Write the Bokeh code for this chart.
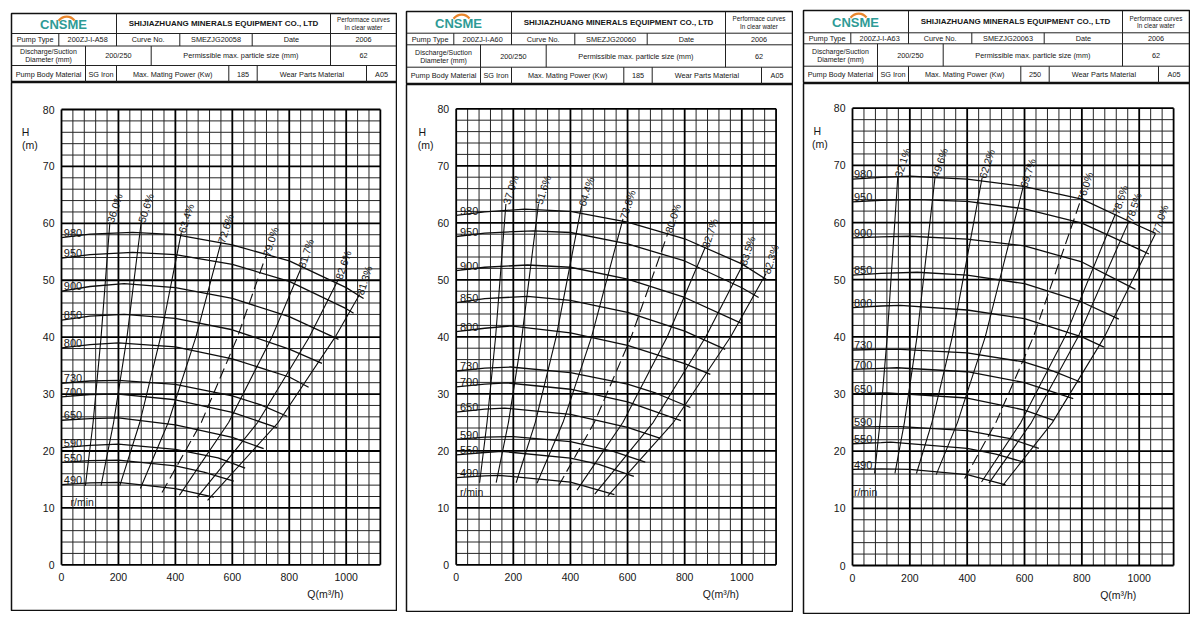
from bokeh.plotting import figure
from bokeh.models import Range1d, LinearAxis, FixedTicker, Spacer
from bokeh.layouts import row, column
from bokeh.core.properties import value
from bokeh.embed import file_html
from bokeh.resources import INLINE

FONT = "Liberation Sans"

# ---------------- common data ----------------
SPEEDS = [980, 950, 900, 850, 800, 730, 700, 650, 590, 550, 490]
X_TICKS = [0, 200, 400, 600, 800, 1000]
Y_TICKS = [0, 10, 20, 30, 40, 50, 60, 70, 80]
Q_MAX = 1120
H_MAX = 80
Q_MINOR_STEP = 40
H_MINOR_STEP = 2

COMPANY = "SHIJIAZHUANG MINERALS EQUIPMENT CO., LTD"

# ---------------- panel 1 : 200ZJ-I-A58 ----------------
A58_INFO = ["200ZJ-I-A58", "SMEZJG20058", "185"]
A58_Q = [
    [0, 100, 250, 400, 600, 800, 1000, 1061],
    [0, 100, 250, 400, 600, 800, 1000, 1026],
    [0, 100, 220, 400, 600, 800, 973],
    [0, 100, 220, 400, 600, 800, 915],
    [0, 100, 200, 400, 600, 800, 868],
    [0, 100, 200, 400, 600, 700, 792],
    [0, 100, 200, 400, 600, 757],
    [0, 100, 200, 400, 600, 710],
    [0, 100, 200, 400, 550, 645],
    [0, 100, 200, 400, 500, 605],
    [0, 100, 200, 400, 535],
]
A58_H = [
    [57.5, 58.1, 58.4, 58.0, 56.2, 53.4, 48.7, 46.8],
    [53.9, 54.5, 54.9, 54.5, 52.8, 49.8, 45.0, 44.2],
    [48.1, 48.9, 49.4, 48.7, 46.8, 43.6, 39.6],
    [43.0, 43.7, 44.0, 43.3, 41.3, 37.9, 35.4],
    [38.1, 38.7, 39.0, 38.3, 36.2, 33.0, 31.2],
    [31.9, 32.3, 32.4, 31.7, 29.7, 28.1, 26.1],
    [29.5, 29.9, 30.0, 29.0, 26.8, 24.1],
    [25.4, 25.7, 25.8, 24.6, 22.4, 20.4],
    [20.6, 21.0, 21.2, 20.3, 18.8, 17.0],
    [18.0, 18.3, 18.4, 17.4, 16.3, 14.7],
    [14.1, 14.4, 14.5, 13.4, 11.9],
]
A58_EFF_LABELS = ["36.0%", "50.6%", "63.4%", "72.6%", "79.0%", "81.7%", "82.6%", "81.3%"]
A58_EFF_DASHED = [False, False, False, False, True, False, False, False]
A58_EFF_Q = [
    [84, 111, 139, 170],
    [139, 183, 230, 280],
    [205, 275, 348, 421],
    [277, 375, 472, 560],
    [353, 491, 618, 718],
    [414, 587, 739, 842],
    [476, 689, 870, 973],
    [513, 761, 961, 1047],
]
A58_EFF_H = [
    [13.9, 25, 40, 60.2],
    [13.9, 25, 40, 60.2],
    [13.9, 25, 40, 58.4],
    [13.4, 25, 40, 56.6],
    [12.7, 25, 40, 54.3],
    [12.2, 25, 40, 52.2],
    [11.8, 25, 40, 50.2],
    [11.3, 25, 40, 47.5],
]

# ---------------- panel 2 : 200ZJ-I-A60 ----------------
A60_INFO = ["200ZJ-I-A60", "SMEZJG20060", "185"]
A60_Q = [
    [0, 100, 240, 400, 600, 800, 1000, 1088],
    [0, 100, 270, 400, 600, 800, 1000, 1059],
    [0, 100, 250, 400, 600, 800, 1001],
    [0, 100, 250, 400, 600, 800, 942],
    [0, 100, 190, 400, 600, 800, 890],
    [0, 100, 190, 400, 600, 700, 820],
    [0, 100, 180, 400, 600, 787],
    [0, 100, 170, 400, 600, 715],
    [0, 100, 200, 400, 550, 662],
    [0, 100, 160, 400, 500, 622],
    [0, 100, 150, 400, 554],
]
A60_H = [
    [61.3, 61.9, 62.4, 62.0, 60.1, 57.2, 52.8, 50.0],
    [57.6, 58.2, 58.6, 58.3, 56.3, 53.3, 48.6, 46.9],
    [51.6, 52.2, 52.6, 52.2, 50.1, 46.9, 42.3],
    [46.0, 46.7, 47.1, 46.4, 44.3, 41.0, 37.8],
    [40.9, 41.5, 41.9, 40.7, 38.5, 35.3, 33.4],
    [34.0, 34.5, 34.7, 33.7, 31.7, 30.1, 27.6],
    [31.2, 31.7, 31.9, 30.8, 28.6, 25.3],
    [26.8, 27.3, 27.5, 26.4, 24.1, 22.2],
    [22.0, 22.4, 22.5, 21.6, 19.9, 18.0],
    [19.3, 19.7, 19.9, 18.7, 17.6, 15.5],
    [15.3, 15.6, 15.7, 14.5, 12.3],
]
A60_EFF_LABELS = ["37.0%", "51.6%", "64.4%", "73.8%", "80.0%", "82.7%", "83.5%", "82.3%"]
A60_EFF_DASHED = [False, False, False, False, True, False, False, False]
A60_EFF_Q = [
    [82, 108, 138, 174],
    [140, 183, 230, 288],
    [210, 277, 350, 439],
    [283, 374, 474, 584],
    [359, 484, 613, 742],
    [423, 584, 739, 872],
    [485, 690, 874, 1003],
    [531, 761, 961, 1085],
]
A60_EFF_H = [
    [14.4, 25, 40, 63.3],
    [14.4, 25, 40, 63.3],
    [14.4, 25, 40, 63.0],
    [14.3, 25, 40, 60.7],
    [13.9, 25, 40, 58.3],
    [13.1, 25, 40, 55.7],
    [12.4, 25, 40, 52.6],
    [12.1, 25, 40, 51.1],
]

# ---------------- panel 3 : 200ZJ-I-A63 ----------------
A63_INFO = ["200ZJ-I-A63", "SMEZJG20063", "250"]
A63_Q = [
    [0, 100, 200, 400, 600, 800, 1000, 1057],
    [0, 100, 226, 400, 600, 800, 1000, 1034],
    [0, 100, 200, 400, 600, 800, 987],
    [0, 100, 226, 400, 600, 800, 929],
    [0, 100, 167, 400, 600, 800, 877],
    [0, 100, 167, 400, 600, 700, 795],
    [0, 100, 156, 400, 600, 770],
    [0, 100, 121, 400, 600, 702],
    [0, 100, 167, 400, 550, 650],
    [0, 100, 133, 400, 500, 603],
    [0, 100, 200, 400, 534],
]
A63_H = [
    [67.6, 67.9, 68.1, 67.6, 66.3, 64.1, 59.4, 58.1],
    [63.6, 63.9, 64.0, 63.7, 62.4, 59.9, 55.3, 54.5],
    [57.3, 57.5, 57.6, 57.1, 55.9, 53.1, 48.3],
    [50.8, 51.1, 51.3, 50.8, 49.3, 46.1, 43.1],
    [45.1, 45.4, 45.5, 44.7, 43.2, 40.0, 38.2],
    [37.7, 37.8, 37.8, 37.2, 35.6, 34.0, 32.1],
    [34.3, 34.5, 34.6, 33.9, 32.0, 29.2],
    [30.0, 30.2, 30.2, 29.3, 27.2, 25.4],
    [24.2, 24.3, 24.3, 23.6, 22.2, 20.5],
    [21.3, 21.5, 21.6, 20.5, 19.5, 18.0],
    [16.8, 16.9, 16.8, 15.9, 14.1],
]
A63_EFF_LABELS = ["32.1%", "49.6%", "62.2%", "69.7%", "76.0%", "78.6%", "78.5%", "77.0%"]
A63_EFF_DASHED = [False, False, False, False, True, False, False, False]
A63_EFF_Q = [
    [77, 96, 121, 158],
    [148, 181, 225, 288],
    [223, 277, 348, 452],
    [292, 366, 463, 595],
    [391, 500, 631, 795],
    [450, 587, 741, 917],
    [476, 624, 787, 964],
    [524, 697, 879, 1057],
]
A63_EFF_H = [
    [16.1, 25, 40, 68.0],
    [16.1, 25, 40, 68.0],
    [16.1, 25, 40, 67.8],
    [15.9, 25, 40, 66.2],
    [15.2, 25, 40, 63.8],
    [14.6, 25, 40, 61.5],
    [14.4, 25, 40, 60.2],
    [14.0, 25, 40, 58.1],
]

# ---------------- layout (pixel geometry of each sheet) ----------------
PANELS = [
    dict(info=A58_INFO, sq=A58_Q, sh=A58_H, el=A58_EFF_LABELS, eq=A58_EFF_Q, eh=A58_EFF_H, ed=A58_EFF_DASHED,
         left=11, right=396, top=13, rows=[0, 20, 32.5, 52, 69], bottom=610,
         q0=61.0, qs=0.2847, h0=564.3, hs=5.691, lab_q=8, rmin=(32, 11.0),
         hlab=(-126, 76.0), mlab=(-111, 73.7)),
    dict(info=A60_INFO, sq=A60_Q, sh=A60_H, el=A60_EFF_LABELS, eq=A60_EFF_Q, eh=A60_EFF_H, ed=A60_EFF_DASHED,
         left=406, right=792, top=11, rows=[0, 21.7, 33.3, 55.7, 73], bottom=611,
         q0=455.7, qs=0.2856, h0=564.3, hs=5.70, lab_q=13, rmin=(13, 12.7),
         hlab=(-119, 76.0), mlab=(-107, 73.7)),
    dict(info=A63_INFO, sq=A63_Q, sh=A63_H, el=A63_EFF_LABELS, eq=A63_EFF_Q, eh=A63_EFF_H, ed=A63_EFF_DASHED,
         left=803, right=1189, top=10, rows=[0, 22.3, 33.3, 55.7, 73], bottom=613,
         q0=852.0, qs=0.2867, h0=565.0, hs=5.716, lab_q=5, rmin=(5, 12.8),
         hlab=(-123, 76.1), mlab=(-114, 73.8)),
]

PAGE_OFFSET = 0  # observed origin of the layout inside the screenshot
TEXT_C = "#161616"


def txt(p, x, y, s, size, align="center", baseline="middle", style="normal", color=TEXT_C, angle=0):
    p.text(x=[x], y=[y], text=[s], text_align=align, text_baseline=baseline,
           text_font=value(FONT), text_font_size=f"{size}px", text_font_style=style,
           text_color=color, angle=angle, angle_units="deg")


def make_header(cfg):
    W = cfg["right"] - cfg["left"]
    r = cfg["rows"]
    HH = int(round(r[-1]))
    p = figure(width=W + 2, height=HH + 1, x_range=Range1d(0, W), y_range=Range1d(HH, 0),
               min_border_left=1, min_border_right=1, min_border_top=1, min_border_bottom=0,
               toolbar_location=None, output_backend="svg", x_axis_type=None, y_axis_type=None)
    p.outline_line_color = "#111111"
    p.outline_line_width = 1.5
    p.background_fill_color = "white"
    p.border_fill_color = "white"
    lc = "#222222"
    p.segment(x0=[0, 0, 0, 0], y0=r[1:], x1=[W, W, W, W], y1=r[1:], line_color=lc, line_width=1.0)
    cols = [[105, 319], [47.3, 105, 168.3, 240.7, 319], [74, 139.7, 319], [74, 105, 217.3, 245.7, 355]]
    for i, cl in enumerate(cols):
        p.segment(x0=cl, y0=r[i], x1=cl, y1=r[i + 1], line_color=lc, line_width=1.0)

    def mid(i):
        return (r[i] + r[i + 1]) / 2.0

    txt(p, 52, mid(0) + 0.8, "CNSME", 13, style="bold", color="#2e9b96")
    p.bezier(x0=[47], y0=[7.2], x1=[63], y1=[7.0], cx0=[52], cy0=[1.5], cx1=[59], cy1=[2.0],
             line_color="#e9862c", line_width=2.2)
    txt(p, 212, mid(0), COMPANY, 8, style="bold")
    txt(p, (319 + W) / 2, mid(0) - 3.6, "Performace curves", 6.3)
    txt(p, (319 + W) / 2, mid(0) + 3.8, "In clear water", 6.3)
    info = cfg["info"]
    row1 = [(0, 47.3, "Pump Type"), (47.3, 105, info[0]), (105, 168.3, "Curve No."),
            (168.3, 240.7, info[1]), (240.7, 319, "Date"), (319, W, "2006")]
    for a, b, s in row1:
        txt(p, (a + b) / 2, mid(1), s, 7.3)
    txt(p, 37, mid(2) - 3.8, "Discharge/Suction", 7.0)
    txt(p, 37, mid(2) + 4.0, "Diameter (mm)", 7.0)
    for a, b, s in [(74, 139.7, "200/250"), (139.7, 319, "Permissible max. particle size (mm)"), (319, W, "62")]:
        txt(p, (a + b) / 2, mid(2), s, 7.3)
    row3 = [(0, 74, "Pump Body Material"), (74, 105, "SG Iron"), (105, 217.3, "Max. Mating Power (Kw)"),
            (217.3, 245.7, info[2]), (245.7, 355, "Wear Parts Material"), (355, W, "A05")]
    for a, b, s in row3:
        txt(p, (a + b) / 2, mid(3), s, 7.3)
    return p


def make_chart(cfg):
    W = cfg["right"] - cfg["left"]
    top = cfg["top"] + int(round(cfg["rows"][-1]))
    CH = cfg["bottom"] - top
    qL = (cfg["left"] - cfg["q0"]) / cfg["qs"]
    qR = (cfg["right"] - cfg["q0"]) / cfg["qs"]
    hT = (cfg["h0"] - top) / cfg["hs"]
    hB = (cfg["h0"] - cfg["bottom"]) / cfg["hs"]
    p = figure(width=W + 2, height=CH + 1, x_range=Range1d(qL, qR), y_range=Range1d(hB, hT),
               min_border_left=1, min_border_right=1, min_border_top=0, min_border_bottom=1,
               toolbar_location=None, output_backend="svg", x_axis_type=None, y_axis_type=None)
    p.outline_line_color = "#111111"
    p.outline_line_width = 1.5
    p.background_fill_color = "white"
    p.border_fill_color = "white"

    minor_q = [q for q in range(0, Q_MAX + 1, Q_MINOR_STEP) if q % 200 != 0 and q != Q_MAX]
    minor_h = [h for h in range(0, H_MAX + 1, H_MINOR_STEP) if h % 10 != 0]
    major_q = X_TICKS + [Q_MAX]
    p.segment(x0=minor_q, y0=0, x1=minor_q, y1=H_MAX, line_color="#262626", line_width=1.0)
    p.segment(x0=0, y0=minor_h, x1=Q_MAX, y1=minor_h, line_color="#262626", line_width=1.0)
    p.segment(x0=major_q, y0=0, x1=major_q, y1=H_MAX, line_color="black", line_width=1.8)
    p.segment(x0=0, y0=Y_TICKS, x1=Q_MAX, y1=Y_TICKS, line_color="black", line_width=1.8)

    ax_style = dict(axis_line_color=None, major_tick_line_color=None, minor_tick_line_color=None,
                    major_tick_in=0, major_tick_out=0, minor_tick_in=0, minor_tick_out=0,
                    major_label_text_font=FONT, major_label_text_font_size="10.5px",
                    major_label_text_color=TEXT_C)
    yax = LinearAxis(fixed_location=0, ticker=FixedTicker(ticks=Y_TICKS), bounds=(0, H_MAX),
                     major_label_standoff=7, **ax_style)
    xax = LinearAxis(fixed_location=0, ticker=FixedTicker(ticks=X_TICKS), bounds=(0, Q_MAX),
                     major_label_standoff=8, **ax_style)
    p.add_layout(yax, "left")
    p.add_layout(xax, "below")

    p.multi_line(xs=cfg["sq"], ys=cfg["sh"], line_color="#0d0d0d", line_width=1.3)
    for s, qs, hs in zip(SPEEDS, cfg["sq"], cfg["sh"]):
        txt(p, cfg["lab_q"], hs[0] + 0.15, str(s), 11, align="left", baseline="bottom")

    solid = [i for i, d in enumerate(cfg["ed"]) if not d]
    dashed = [i for i, d in enumerate(cfg["ed"]) if d]
    p.multi_line(xs=[cfg["eq"][i] for i in solid], ys=[cfg["eh"][i] for i in solid],
                 line_color="#0d0d0d", line_width=1.1)
    p.multi_line(xs=[cfg["eq"][i] for i in dashed], ys=[cfg["eh"][i] for i in dashed],
                 line_color="#0d0d0d", line_width=1.1, line_dash="11 5")
    for lab, qs, hs in zip(cfg["el"], cfg["eq"], cfg["eh"]):
        txt(p, qs[-1], hs[-1], lab, 10.5, align="left", baseline="middle", angle=72)

    txt(p, cfg["rmin"][0], cfg["rmin"][1], "r/min", 10.5, align="left")
    txt(p, cfg["hlab"][0], cfg["hlab"][1], "H", 10.5)
    txt(p, cfg["mlab"][0], cfg["mlab"][1], "(m)", 10.5)
    txt(p, 927, -5.1, "Q(m³/h)", 10.5)
    return p


cols = []
prev_right = PAGE_OFFSET
for cfg in PANELS:
    fig_left = cfg["left"] - 1
    gap = fig_left - prev_right
    prev_right = fig_left + (cfg["right"] - cfg["left"]) + 2
    top_sp = cfg["top"] - 1 - PAGE_OFFSET
    items = []
    if top_sp > 0:
        items.append(Spacer(width=1, height=top_sp))
    items.append(make_header(cfg))
    items.append(make_chart(cfg))
    if gap > 0:
        cols.append(Spacer(width=gap, height=1))
    cols.append(column(*items, spacing=0))

layout = row(*cols, spacing=0)
open("out.html", "w").write(file_html(layout, INLINE))
